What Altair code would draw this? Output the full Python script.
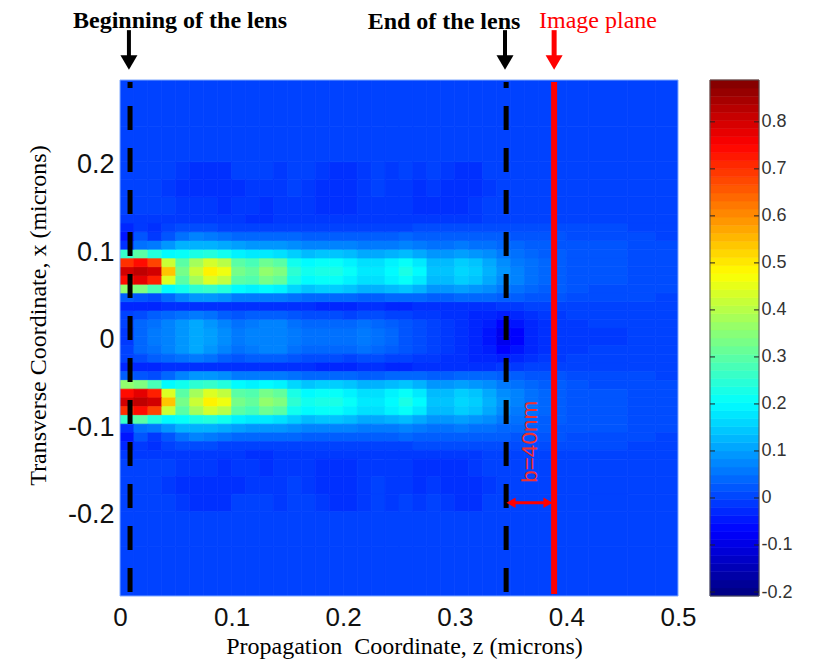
import altair as alt
import pandas as pd

# column edges along z (microns)
Z_EDGES = [0, .0125, .025, .0375, .05, .0625, .075, .0875, .1, .1125, .125, .1375, .15, .1625, .175, .1875,
           .2, .2125, .225, .2375, .25, .2625, .275, .2875, .3, .3125, .325, .3375, .35, .3625, .375, .3875,
           .4, .42, .455, .48, .5]
# row edges as distance from the pattern's axis
D_EDGES = [0, .01, .02, .03, .04, .05, .06, .07, .08, .09, .10, .11, .12, .13, .14, .16, .18, .20, .24, .30]
AXIS_X = 0.0035

# field values x100, one row per D band
R00 = [-1,4,6,7,9,11,10,8,6,7,7,7,6,5,5,5,5,6,5,4,2,1,0,-1,-2,-3,-5,-9,-7,-3,-2,-1,-1,-1,0,0]
R01 = [0,4,5,7,9,11,9,7,5,6,7,7,5,4,4,4,4,5,4,3,2,1,0,-1,-2,-3,-4,-7,-5,-3,-2,-1,-1,0,0,0]
R02 = [0,1,3,4,5,6,5,3,2,3,3,3,2,1,1,1,0,1,1,0,0,-1,-1,-2,-2,-3,-3,-4,-3,-2,-1,-1,0,0,0,0]
R03 = [-3,-3,-3,-2,-2,-2,-2,-2,-2,-2,-2,-2,-2,-2,-3,-3,-3,-2,-2,-3,-3,-2,-2,-2,-2,-2,-2,-1,-1,0,0,0,0,0,0,0]
R04 = [3,2,1,4,7,9,9,8,6,6,6,6,5,4,4,4,4,3,3,4,4,4,3,3,4,4,4,3,3,2,2,2,1,1,1,0]
R05 = [36,34,28,20,22,25,26,24,20,19,20,19,16,14,15,15,14,12,12,13,14,12,9,9,10,9,8,6,5,4,3,3,2,1,1,1]
R06 = [74,78,72,44,30,38,44,41,30,29,33,31,23,20,21,21,19,17,17,19,21,18,13,13,15,14,11,8,7,5,4,3,2,2,1,1]
R07 = [80,82,80,54,33,42,49,46,33,31,36,34,25,22,23,23,21,18,18,20,23,20,14,14,16,15,12,9,7,5,4,3,2,2,1,1]
R08 = [70,74,68,42,30,38,43,40,30,28,32,30,22,20,21,21,19,17,17,19,21,18,13,13,15,14,11,8,6,5,4,3,2,2,1,1]
R09 = [26,30,24,20,21,23,24,22,19,18,18,17,15,13,14,14,13,11,11,12,13,11,9,9,10,9,8,6,5,4,3,3,2,2,1,1]
R10 = [-2,5,6,9,12,12,12,11,10,9,9,9,8,7,7,7,7,6,6,6,7,6,5,5,6,5,5,4,4,3,3,2,2,2,1,1]
R11 = [-5,2,-1,2,5,7,6,5,4,4,4,4,4,3,3,3,3,3,3,3,4,3,3,3,3,3,3,3,2,2,2,2,1,1,1,0]
R12 = [-3,-1,-2,0,1,1,1,0,0,0,0,0,0,0,0,0,0,0,0,0,0,1,1,1,1,1,1,1,1,1,1,1,1,1,0,0]
R13 = [-1,-1,-1,-1,-1,-1,-1,-1,-1,-2,-2,-1,-1,-1,-1,-1,-1,-1,-1,-1,-1,-1,-1,-1,-1,-1,0,0,0,0,0,0,0,0,0,0]
R14 = [0,0,0,0,-1,-1,-1,-2,-1,-1,-2,-1,-1,-1,-2,-2,-2,-1,-1,-1,-1,-2,-2,-2,-2,-1,0,0,0,0,0,0,0,0,0,0]
R15 = [0,0,0,-1,-2,-2,-2,-2,-2,-1,-1,-1,0,-1,-2,-2,-2,-1,0,-1,-1,-2,-1,-2,-2,-2,-1,0,0,0,0,0,0,0,0,0]
R16 = [0,0,0,0,-1,-2,-2,-2,0,0,0,-1,0,0,-1,-2,-2,-1,0,-1,0,-1,0,-1,-2,-2,0,0,0,0,0,0,0,0,0,0]
R17 = [0,0,0,0,0,0,0,0,0,0,0,0,0,0,0,0,0,0,0,0,0,0,0,0,0,0,0,0,0,0,0,0,0,0,0,0]
R18 = [0,0,0,0,0,0,0,0,0,0,0,0,0,0,0,0,0,0,0,0,0,0,0,0,0,0,0,0,0,0,0,0,0,0,0,0]
ROWS = [R00,R01,R02,R03,R04,R05,R06,R07,R08,R09,R10,R11,R12,R13,R14,R15,R16,R17,R18]

LENS_START = 0.009
LENS_END = 0.346
IMAGE_PLANE = 0.389
Y_TOP, Y_BOTTOM = 0.297, -0.293
C_MIN, C_MAX = -0.2085, 0.889
X_TICKS = [0, .1, .2, .3, .4, .5]
Y_TICKS = [-.2, -.1, 0, .1, .2]
C_TICKS = [-.2, -.1, 0, .1, .2, .3, .4, .5, .6, .7, .8]
JET_T = [0, .125, .375, .625, .875, 1]
JET_C = ["#00007f", "#0000ff", "#00ffff", "#ffff00", "#ff0000", "#7f0000"]
N_LEVELS = 64

cells = []
for r, row in enumerate(ROWS):
    for c, v in enumerate(row):
        for sign in (1, -1):
            cells.append({"z0": Z_EDGES[c], "z1": Z_EDGES[c + 1],
                          "y0": AXIS_X + sign * D_EDGES[r], "y1": AXIS_X + sign * D_EDGES[r + 1],
                          "v": v / 100})
cells = pd.DataFrame(cells)

span = C_MAX - C_MIN
c_scale = alt.Scale(domain=[C_MIN + t * span for t in JET_T], range=JET_C, clamp=True, interpolate="rgb")
x_scale = alt.Scale(domain=[0, .5], nice=False, zero=False)
y_scale = alt.Scale(domain=[Y_BOTTOM, Y_TOP], nice=False, zero=False)
cb_scale = alt.Scale(domain=[C_MIN, C_MAX], nice=False, zero=False)

LABEL_EXPR = "datum.value == 0 ? '0' : replace(format(datum.value, '.1f'), '\u2212', '-')"

x_axis = alt.Axis(values=X_TICKS, labelExpr=LABEL_EXPR, grid=False, domain=False, ticks=False,
                  labelFont="Liberation Sans", labelFontSize=26, labelColor="#111", labelPadding=8,
                  labelFlush=False, labelOverlap=False, labelBound=False,
                  title="Propagation\u00a0 Coordinate, z (microns)", titleFont="Liberation Serif",
                  titleFontSize=24, titleFontWeight="normal", titleColor="#000",
                  titleX=284, titleY=50, titleBaseline="middle", titleAnchor="middle")
y_axis = alt.Axis(values=Y_TICKS, labelExpr=LABEL_EXPR, grid=False, domain=False, ticks=False, orient="left",
                  labelFont="Liberation Sans", labelFontSize=27, labelColor="#111", labelPadding=6,
                  labelFlush=False, labelOverlap=False, labelBound=False,
                  title="Transverse Coordinate, x (microns)", titleFont="Liberation Serif",
                  titleFontSize=24, titleFontWeight="normal", titleColor="#000",
                  titleX=-82, titleY=235, titleBaseline="middle", titleAnchor="middle", titleAngle=270)

heat = alt.Chart(cells).mark_rect(clip=True, strokeWidth=0.7).encode(
    x=alt.X("z0:Q", scale=x_scale, axis=x_axis),
    x2="z1:Q",
    y=alt.Y("y0:Q", scale=y_scale, axis=y_axis),
    y2="y1:Q",
    color=alt.Color("v:Q", scale=c_scale, legend=None),
    stroke=alt.Stroke("v:Q", scale=c_scale, legend=None),
)

frame = alt.Chart(pd.DataFrame({"a": [0], "b": [.5], "c": [Y_BOTTOM], "d": [Y_TOP]})).mark_rect(
    fillOpacity=0, stroke="#7fa8ff", strokeWidth=1).encode(
    x=alt.X("a:Q", scale=x_scale), x2="b:Q", y=alt.Y("c:Q", scale=y_scale), y2="d:Q")

def vline(z, color, width, dash=None, offset=0):
    kw = {"strokeDash": dash, "strokeDashOffset": offset} if dash else {}
    return alt.Chart(pd.DataFrame({"z": [z], "t": [.2947], "b": [-.2906]})).mark_rule(
        color=color, strokeWidth=width, strokeCap="butt", **kw).encode(
        x=alt.X("z:Q", scale=x_scale), y=alt.Y("t:Q", scale=y_scale), y2="b:Q")

def down_arrow(z, color, width):
    d = pd.DataFrame({"z": [z], "t": [.354], "b": [.32], "h": [.317]})
    shaft = alt.Chart(d).mark_rule(color=color, strokeWidth=width, strokeCap="butt").encode(
        x=alt.X("z:Q", scale=x_scale), y=alt.Y("t:Q", scale=y_scale), y2="b:Q")
    head = alt.Chart(d).mark_point(shape="triangle-down", filled=True, color=color, opacity=1, size=289).encode(
        x=alt.X("z:Q", scale=x_scale), y=alt.Y("h:Q", scale=y_scale))
    return shaft + head

LABELS = pd.DataFrame({
    "z": [.0538, .2903, .4283], "y": [.3645, .3635, .3645],
    "text": ["Beginning of the lens", "End of the lens", "Image plane"],
})
def top_text(d, color, weight):
    return alt.Chart(d).mark_text(font="Liberation Serif", fontSize=24, fontWeight=weight, color=color,
                                  align="center", baseline="middle").encode(
        x=alt.X("z:Q", scale=x_scale), y=alt.Y("y:Q", scale=y_scale), text="text:N")

B_Y = -.1864
b_line = alt.Chart(pd.DataFrame({"a": [.352], "b": [.382], "y": [B_Y]})).mark_rule(
    color="#ff0000", strokeWidth=3).encode(
    x=alt.X("a:Q", scale=x_scale), x2="b:Q", y=alt.Y("y:Q", scale=y_scale))
b_left = alt.Chart(pd.DataFrame({"z": [.3504], "y": [B_Y]})).mark_point(
    shape="triangle-left", filled=True, color="#ff0000", opacity=1, size=110).encode(
    x=alt.X("z:Q", scale=x_scale), y=alt.Y("y:Q", scale=y_scale))
b_right = alt.Chart(pd.DataFrame({"z": [.3835], "y": [B_Y]})).mark_point(
    shape="triangle-right", filled=True, color="#ff0000", opacity=1, size=110).encode(
    x=alt.X("z:Q", scale=x_scale), y=alt.Y("y:Q", scale=y_scale))
b_text = alt.Chart(pd.DataFrame({"z": [.3674], "y": [-.1167], "text": ["b=40nm"]})).mark_text(
    font="Liberation Sans", fontSize=22.5, color="#f03030", angle=270, align="center", baseline="middle").encode(
    x=alt.X("z:Q", scale=x_scale), y=alt.Y("y:Q", scale=y_scale), text="text:N")

main = alt.layer(
    heat, frame,
    vline(LENS_START, "#000", 5, [24, 18], 18),
    vline(LENS_END, "#000", 5, [24, 18], 18),
    vline(IMAGE_PLANE, "#ff0000", 6),
    down_arrow(.008, "#000", 4), down_arrow(.345, "#000", 4), down_arrow(IMAGE_PLANE, "#ff0000", 5),
    top_text(LABELS.iloc[:2], "#000", "bold"), top_text(LABELS.iloc[2:], "#ff0000", "normal"),
    b_line, b_left, b_right, b_text,
)

levels = [C_MIN + span * i / N_LEVELS for i in range(N_LEVELS + 1)]
bar = pd.DataFrame({"lo": levels[:-1], "hi": levels[1:], "v": [(a + b) / 2 for a, b in zip(levels[:-1], levels[1:])]})
cb_axis = alt.Axis(values=C_TICKS, labelExpr=LABEL_EXPR, grid=False, domain=False, ticks=False, orient="right",
                   offset=81, title=None, labelFont="Liberation Sans", labelFontSize=18, labelColor="#333",
                   labelPadding=2, labelFlush=False, labelOverlap=False, labelBound=False)
cb = alt.Chart(bar).mark_rect(strokeWidth=0.6).encode(
    x=alt.value(590), x2=alt.value(639),
    y=alt.Y("lo:Q", scale=cb_scale, axis=cb_axis), y2="hi:Q",
    color=alt.Color("v:Q", scale=c_scale, legend=None),
    stroke=alt.Stroke("v:Q", scale=c_scale, legend=None),
)
cb_ticks = pd.DataFrame({"v": C_TICKS})
cb_l = alt.Chart(cb_ticks).mark_rule(color="#222", strokeWidth=1).encode(
    x=alt.value(590), x2=alt.value(595), y=alt.Y("v:Q", scale=cb_scale))
cb_r = alt.Chart(cb_ticks).mark_rule(color="#222", strokeWidth=1).encode(
    x=alt.value(634), x2=alt.value(639), y=alt.Y("v:Q", scale=cb_scale))
cb_box = alt.Chart(pd.DataFrame({"a": [C_MIN], "b": [C_MAX]})).mark_rect(
    fillOpacity=0, stroke="#555", strokeWidth=1).encode(
    x=alt.value(590), x2=alt.value(639), y=alt.Y("a:Q", scale=cb_scale), y2="b:Q")
colorbar = alt.layer(cb, cb_box, cb_l, cb_r)

chart = alt.layer(main, colorbar).resolve_scale(y="independent").properties(
    width=558, height=516,
    autosize=alt.AutoSizeParams(type="none", contains="content"),
    padding={"left": 112, "top": 72, "right": 146, "bottom": 65},
    background="white",
).configure_view(stroke=None)

chart.save("out.html", embed_options={"renderer": "svg", "actions": False})
